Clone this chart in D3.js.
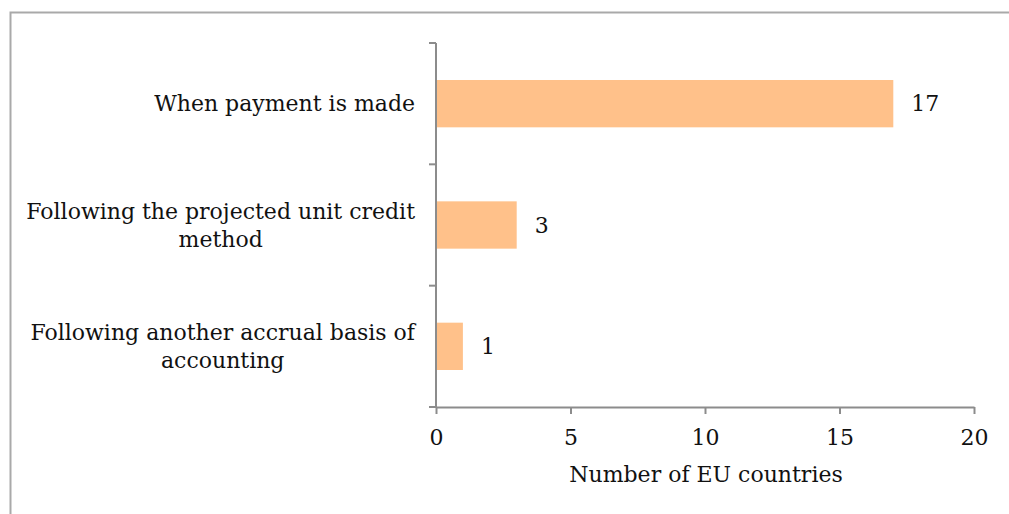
<!DOCTYPE html>
<html>
<head>
<meta charset="utf-8">
<script src="https://cdn.jsdelivr.net/npm/d3@7"></script>
<style>
  body { margin: 0; background: #fff; }
  text { font-family: "DejaVu Serif", "Liberation Serif", serif; fill: #111; }
</style>
</head>
<body>
<div id="chart"></div>
<script>
// data
var categories = [
    ["When payment is made"],
    ["Following the projected unit credit", "method"],
    ["Following another accrual basis of", "accounting"]
];
var values = [17, 3, 1];
var xTicks = [0, 5, 10, 15, 20];
var xTitle = "Number of EU countries";

var W = 1009, H = 514;
var svg = d3.select("#chart").append("svg").attr("width", W).attr("height", H);

// outer frame (right and bottom cut off)
svg.append("path")
    .attr("d", "M10.5," + H + "V12.5H" + W)
    .attr("fill", "none")
    .attr("stroke", "#a9a9a9")
    .attr("stroke-width", 2);

var plotLeft = 436, plotRight = 974, plotTop = 43, plotBottom = 407;
var fontSize = "22px";

var x = d3.scaleLinear().domain([0, 20]).range([plotLeft, plotRight]);
var y = d3.scaleBand().domain(d3.range(categories.length)).range([plotTop, plotBottom]).paddingInner(0.61).paddingOuter(0.305);
var yb = d3.scaleLinear().domain([0, categories.length]).range([plotTop, plotBottom]);

// bars
svg.selectAll("rect.bar").data(values).enter().append("rect")
    .attr("class", "bar")
    .attr("x", x(0))
    .attr("y", function(d, i) { return y(i); })
    .attr("width", function(d) { return x(d) - x(0); })
    .attr("height", y.bandwidth())
    .attr("fill", "#ffc18a");

// value labels
svg.selectAll("text.val").data(values).enter().append("text")
    .attr("class", "val")
    .attr("x", function(d) { return x(d) + 18; })
    .attr("y", function(d, i) { return y(i) + y.bandwidth() / 2; })
    .attr("dy", "0.35em")
    .attr("font-size", fontSize)
    .text(function(d) { return d; });

// y axis line and ticks at category boundaries
var axisColor = "#8c8c8c";
svg.append("line")
    .attr("x1", plotLeft).attr("x2", plotLeft)
    .attr("y1", plotTop).attr("y2", plotBottom)
    .attr("stroke", axisColor).attr("stroke-width", 2);
svg.selectAll("line.ytick").data(d3.range(categories.length + 1)).enter().append("line")
    .attr("class", "ytick")
    .attr("x1", plotLeft - 7).attr("x2", plotLeft)
    .attr("y1", function(d) { return yb(d); })
    .attr("y2", function(d) { return yb(d); })
    .attr("stroke", axisColor).attr("stroke-width", 2);

// x axis
var xAxis = svg.append("g")
    .attr("transform", "translate(0," + plotBottom + ")")
    .call(d3.axisBottom(x).tickValues(xTicks).tickSize(7).tickPadding(15).tickSizeOuter(0));
xAxis.select(".domain").attr("stroke", axisColor).attr("stroke-width", 2);
xAxis.selectAll(".tick line").attr("stroke", axisColor).attr("stroke-width", 2);
xAxis.selectAll(".tick text")
    .attr("font-size", fontSize)
    .attr("font-family", "DejaVu Serif, serif")
    .attr("fill", "#111");

svg.append("text")
    .attr("x", (plotLeft + plotRight) / 2 + 1)
    .attr("y", 482)
    .attr("text-anchor", "middle")
    .attr("font-size", fontSize)
    .text(xTitle);

// category labels: multi-line blocks, lines centered, block right-aligned
var labelRight = 415, lineH = 28;
categories.forEach(function(lines, i) {
    var g = svg.append("g");
    var cy = y(i) + y.bandwidth() / 2;
    var ts = lines.map(function(s, k) {
        return g.append("text")
            .attr("font-size", fontSize)
            .attr("y", cy + (k - (lines.length - 1) / 2) * lineH)
            .attr("dy", "0.35em")
            .text(s);
    });
    var maxW = d3.max(ts, function(t) { return t.node().getComputedTextLength(); });
    ts.forEach(function(t) {
        t.attr("x", labelRight - maxW / 2).attr("text-anchor", "middle");
    });
});
</script>
</body>
</html>
